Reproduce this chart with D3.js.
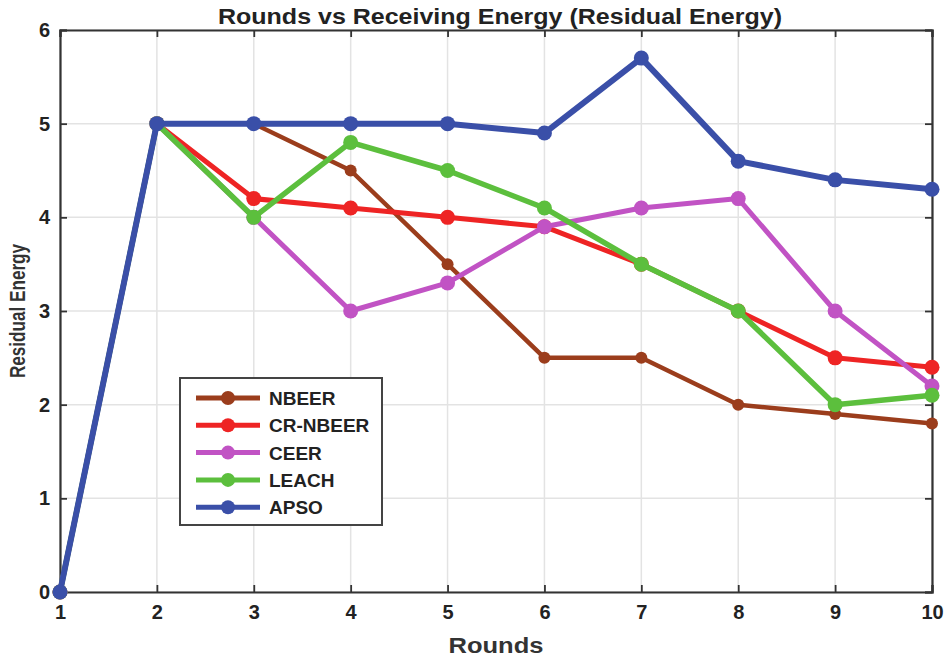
<!DOCTYPE html>
<html>
<head>
<meta charset="utf-8">
<script src="https://cdn.jsdelivr.net/npm/d3@7"></script>
<style>
  body { margin: 0; background: #fff; }
  text { font-family: "Liberation Sans", Arial, sans-serif; }
</style>
</head>
<body>
<div id="chart"></div>
<script>
// data
var rounds = [1, 2, 3, 4, 5, 6, 7, 8, 9, 10];
var seriesNames = ["NBEER", "CR-NBEER", "CEER", "LEACH", "APSO"];
var nbeer   = [0, 5, 5,   4.5, 3.5, 2.5, 2.5, 2.0, 1.9, 1.8];
var crNbeer = [0, 5, 4.2, 4.1, 4.0, 3.9, 3.5, 3.0, 2.5, 2.4];
var ceer    = [0, 5, 4.0, 3.0, 3.3, 3.9, 4.1, 4.2, 3.0, 2.2];
var leach   = [0, 5, 4.0, 4.8, 4.5, 4.1, 3.5, 3.0, 2.0, 2.1];
var apso    = [0, 5, 5,   5,   5,   4.9, 5.7, 4.6, 4.4, 4.3];
var yTicks = [0, 1, 2, 3, 4, 5, 6];

var colors = ["#9b3d1c", "#ee2424", "#c153c4", "#5cbf3d", "#3a4fa8"];
var widths = [4.5, 5, 5, 5.5, 6];
var allSeries = [nbeer, crNbeer, ceer, leach, apso];

var svgWidth = 950;
var svgHeight = 660;
var margin = { top: 30, right: 18, bottom: 68, left: 60 };
var width = svgWidth - margin.left - margin.right;
var height = svgHeight - margin.top - margin.bottom;

var svg = d3.select("#chart")
    .append("svg")
    .attr("width", svgWidth)
    .attr("height", svgHeight);

var chartGroup = svg.append("g")
    .attr("transform", `translate(${margin.left}, ${margin.top})`);

var xScale = d3.scaleLinear().domain([1, 10]).range([0, width]);
var yScale = d3.scaleLinear().domain([0, 6]).range([height, 0]);

// grid
chartGroup.append("g").selectAll("line")
    .data(rounds)
    .enter().append("line")
    .attr("x1", d => xScale(d)).attr("x2", d => xScale(d))
    .attr("y1", 0).attr("y2", height)
    .attr("stroke", "#e3e3e3").attr("stroke-width", 1.5);
chartGroup.append("g").selectAll("line")
    .data(yTicks)
    .enter().append("line")
    .attr("x1", 0).attr("x2", width)
    .attr("y1", d => yScale(d)).attr("y2", d => yScale(d))
    .attr("stroke", "#e3e3e3").attr("stroke-width", 1.5);

// axes (inward ticks, box on)
var bottomAxis = d3.axisBottom(xScale).tickValues(rounds).tickFormat(d3.format("d")).tickSize(-7).tickPadding(13);
var leftAxis = d3.axisLeft(yScale).tickValues(yTicks).tickFormat(d3.format("d")).tickSize(-7).tickPadding(10);
var topAxis = d3.axisTop(xScale).tickValues(rounds).tickSize(-7).tickFormat("");
var rightAxis = d3.axisRight(yScale).tickValues(yTicks).tickSize(-7).tickFormat("");

function styleAxis(g) {
    g.select(".domain").attr("stroke", "#333").attr("stroke-width", 2.2);
    g.selectAll(".tick line").attr("stroke", "#333").attr("stroke-width", 1.8);
    g.selectAll(".tick text")
        .attr("fill", "#222")
        .style("font-size", "20px")
        .style("font-weight", "bold");
}

chartGroup.append("g").attr("transform", `translate(0, ${height})`).call(bottomAxis).call(styleAxis);
chartGroup.append("g").call(leftAxis).call(styleAxis);
chartGroup.append("g").call(topAxis).call(styleAxis);
chartGroup.append("g").attr("transform", `translate(${width}, 0)`).call(rightAxis).call(styleAxis);

// lines + markers
var line = d3.line()
    .x((d, i) => xScale(rounds[i]))
    .y(d => yScale(d));

allSeries.forEach(function (vals, k) {
    chartGroup.append("path")
        .datum(vals)
        .attr("d", line)
        .attr("fill", "none")
        .attr("stroke", colors[k])
        .attr("stroke-width", widths[k])
        .attr("stroke-linejoin", "round");
    chartGroup.append("g").selectAll("circle")
        .data(vals)
        .enter().append("circle")
        .attr("cx", (d, i) => xScale(rounds[i]))
        .attr("cy", d => yScale(d))
        .attr("r", k == 0 ? 6 : 7.5)
        .attr("fill", colors[k]);
});

// title and labels (source font is a tall, narrow Helvetica)
svg.append("text")
    .attr("x", 500).attr("y", 24)
    .attr("text-anchor", "middle")
    .attr("textLength", 564).attr("lengthAdjust", "spacingAndGlyphs")
    .style("font-size", "22px").style("font-weight", "bold")
    .attr("fill", "#222")
    .text("Rounds vs Receiving Energy (Residual Energy)");

svg.append("text")
    .attr("x", margin.left + width / 2).attr("y", 653)
    .attr("text-anchor", "middle")
    .attr("textLength", 95).attr("lengthAdjust", "spacingAndGlyphs")
    .style("font-size", "22px").style("font-weight", "bold")
    .attr("fill", "#333")
    .text("Rounds");

svg.append("text")
    .attr("transform", `translate(25, ${margin.top + height / 2}) rotate(-90)`)
    .attr("text-anchor", "middle")
    .attr("textLength", 134).attr("lengthAdjust", "spacingAndGlyphs")
    .style("font-size", "22px").style("font-weight", "bold")
    .attr("fill", "#333")
    .text("Residual Energy");

// legend
var legend = svg.append("g").attr("transform", "translate(180, 378)");
legend.append("rect")
    .attr("width", 202).attr("height", 147)
    .attr("fill", "#fff").attr("stroke", "#444").attr("stroke-width", 2);

seriesNames.forEach(function (name, k) {
    var y = 20 + k * 27.3;
    legend.append("line")
        .attr("x1", 16).attr("x2", 80)
        .attr("y1", y).attr("y2", y)
        .attr("stroke", colors[k]).attr("stroke-width", 5);
    legend.append("circle")
        .attr("cx", 48).attr("cy", y).attr("r", 7)
        .attr("fill", colors[k]);
    legend.append("text")
        .attr("x", 89).attr("y", y + 7)
        .style("font-size", "19px").style("font-weight", "bold")
        .attr("fill", "#222")
        .text(name);
});
</script>
</body>
</html>
